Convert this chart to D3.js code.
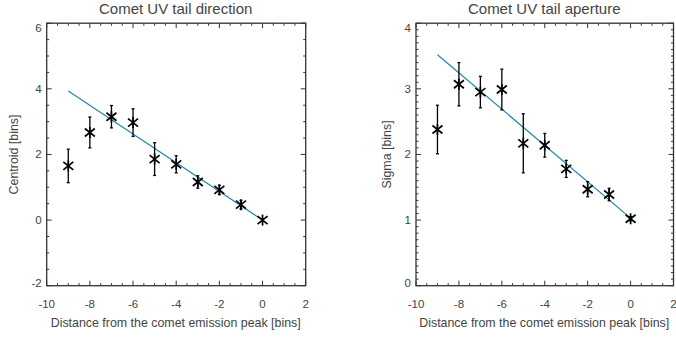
<!DOCTYPE html>
<html><head><meta charset="utf-8">
<script src="https://cdn.jsdelivr.net/npm/d3@7"></script>
<style>
html,body{margin:0;padding:0;background:#fff;}
svg{display:block;font-family:"Liberation Sans",Arial,sans-serif;}
</style></head>
<body>
<svg id="chart" width="676" height="338"></svg>
<script>
// ---- data ----
const distance = [-9, -8, -7, -6, -5, -4, -3, -2, -1, 0];
const centroid = [1.65, 2.67, 3.15, 2.97, 1.86, 1.70, 1.16, 0.92, 0.47, 0.00];
const centroidErr = [0.51, 0.47, 0.34, 0.42, 0.50, 0.26, 0.19, 0.14, 0.13, 0.04];
const sigma = [2.38, 3.07, 2.95, 2.99, 2.17, 2.14, 1.78, 1.47, 1.39, 1.02];
const sigmaErr = [0.37, 0.33, 0.24, 0.31, 0.45, 0.18, 0.13, 0.115, 0.095, 0.03];
const fitX = [-9, 0];
const centroidFit = [3.93, 0.00];
const sigmaFit = [3.52, 1.03];
const xTicks = [-10, -8, -6, -4, -2, 0, 2];
const centroidTicks = [-2, 0, 2, 4, 6];
const sigmaTicks = [0, 1, 2, 3, 4];
const titles = ["Comet UV tail direction", "Comet UV tail aperture"];
const yTitles = ["Centroid [bins]", "Sigma [bins]"];
const xTitle = "Distance from the comet emission peak [bins]";

const svg = d3.select("#chart");
const frameColor = "#333";
const textColor = "#444";
const fitColor = "#1d8aa6";

function panel(o) {
  const g = svg.append("g");
  const x = d3.scaleLinear().domain([-10, 2]).range([o.x0, o.x1]);
  const y = d3.scaleLinear().domain(o.yDomain).range([o.y1, o.y0]);
  const xMinor = d3.range(-10, 2.001, 0.5);
  const yMinor = d3.range(o.yDomain[0], o.yDomain[1] + 1e-6, o.yMinorStep);

  const tickG = g.append("g").attr("stroke", frameColor).attr("stroke-width", 1);
  xMinor.forEach(v => {
    const major = xTicks.some(t => Math.abs(t - v) < 1e-6);
    const L = major ? 5 : 2.5;
    tickG.append("line").attr("x1", x(v)).attr("x2", x(v)).attr("y1", o.y1).attr("y2", o.y1 - L);
    tickG.append("line").attr("x1", x(v)).attr("x2", x(v)).attr("y1", o.y0).attr("y2", o.y0 + L);
  });
  yMinor.forEach(v => {
    const major = o.yTicks.some(t => Math.abs(t - v) < 1e-6);
    const L = major ? 5 : 2.5;
    tickG.append("line").attr("y1", y(v)).attr("y2", y(v)).attr("x1", o.x0).attr("x2", o.x0 + L);
    tickG.append("line").attr("y1", y(v)).attr("y2", y(v)).attr("x1", o.x1).attr("x2", o.x1 - L);
  });
  g.append("rect").attr("x", o.x0).attr("y", o.y0).attr("width", o.x1 - o.x0).attr("height", o.y1 - o.y0)
    .attr("fill", "none").attr("stroke", frameColor).attr("stroke-width", 1.3);

  g.append("g").selectAll("text").data(xTicks).join("text")
    .attr("x", d => x(d)).attr("y", o.y1 + 22).attr("text-anchor", "middle")
    .attr("font-size", 11.5).attr("fill", textColor).text(d => d);
  g.append("g").selectAll("text").data(o.yTicks).join("text")
    .attr("x", o.x0 - 5).attr("y", (d, i) => y(d) + 4 + (i === o.yTicks.length - 1 ? 5 : 0) + (i === 0 ? -3 : 0))
    .attr("text-anchor", "end").attr("font-size", 11.5).attr("fill", textColor).text(d => d);

  g.append("text").attr("x", (o.x0 + o.x1) / 2 - 0.5).attr("y", 14).attr("text-anchor", "middle")
    .attr("font-size", 15).attr("fill", textColor).text(o.title);
  g.append("text").attr("x", (o.x0 + o.x1) / 2 - 0.5).attr("y", 327).attr("text-anchor", "middle")
    .attr("font-size", 12.4).attr("fill", textColor).text(xTitle);
  g.append("text").attr("transform", `translate(${o.yTitleX},${(o.y0 + o.y1) / 2}) rotate(-90)`)
    .attr("text-anchor", "middle").attr("font-size", 12.4).attr("fill", textColor).text(o.yTitle);

  g.append("path").datum(fitX.map((d, i) => [d, o.fit[i]]))
    .attr("d", d3.line().x(d => x(d[0])).y(d => y(d[1])))
    .attr("fill", "none").attr("stroke", fitColor).attr("stroke-width", 1.2);

  const eb = g.append("g").attr("stroke", "#000").attr("stroke-width", 1.3);
  distance.forEach((d, i) => {
    const cx = x(d), top = y(o.vals[i] + o.errs[i]), bot = y(o.vals[i] - o.errs[i]);
    eb.append("line").attr("x1", cx).attr("x2", cx).attr("y1", top).attr("y2", bot);
    eb.append("line").attr("x1", cx - 1.5).attr("x2", cx + 1.5).attr("y1", top).attr("y2", top);
    eb.append("line").attr("x1", cx - 1.5).attr("x2", cx + 1.5).attr("y1", bot).attr("y2", bot);
  });
  const mk = g.append("g").attr("stroke", "#000").attr("stroke-width", 1.7);
  distance.forEach((d, i) => {
    const cx = x(d), cy = y(o.vals[i]), r = 5;
    mk.append("line").attr("x1", cx - r).attr("x2", cx + r).attr("y1", cy - r * 0.8).attr("y2", cy + r * 0.8);
    mk.append("line").attr("x1", cx - r).attr("x2", cx + r).attr("y1", cy + r * 0.8).attr("y2", cy - r * 0.8);
    mk.append("line").attr("x1", cx).attr("x2", cx).attr("y1", cy - r * 1.1).attr("y2", cy + r * 1.1);
  });
}

panel({x0: 46.7, x1: 305.7, y0: 23.2, y1: 285.7, yDomain: [-2, 6], yMinorStep: 0.5,
  yTicks: centroidTicks, vals: centroid, errs: centroidErr, fit: centroidFit,
  title: titles[0], yTitle: yTitles[0], yTitleX: 18});
panel({x0: 416, x1: 673.5, y0: 23.2, y1: 285.7, yDomain: [0, 4], yMinorStep: 0.1,
  yTicks: sigmaTicks, vals: sigma, errs: sigmaErr, fit: sigmaFit,
  title: titles[1], yTitle: yTitles[1], yTitleX: 391});
</script>
</body></html>
